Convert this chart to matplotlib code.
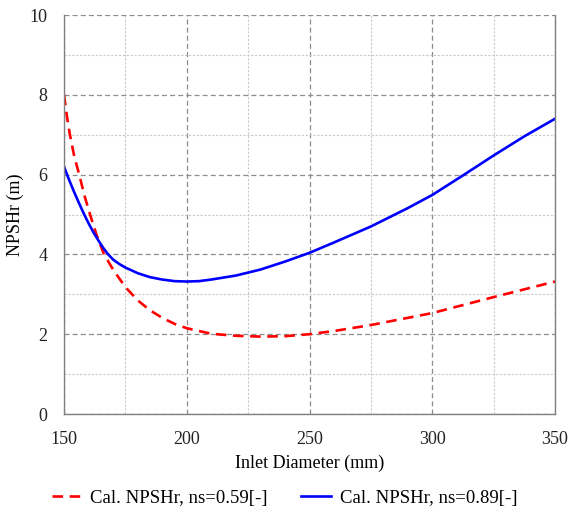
import numpy as np
from matplotlib import pyplot as plt
from matplotlib.ticker import MultipleLocator

plt.rcParams['font.family'] = ['Liberation Serif', 'DejaVu Serif']

# ns = 0.59 (red dashed)
d_059 = [150, 151.2, 152.4, 154.2, 156.2, 158.3, 160.6, 163.3, 166.3, 170.1, 175, 180, 185,
         190, 195, 200, 210, 220, 230, 240, 250, 260, 275, 300, 325, 350]
npsh_059 = [8.0, 7.45, 7.0, 6.45, 6.0, 5.48, 5.0, 4.48, 4.0, 3.61, 3.18, 2.85, 2.6,
            2.41, 2.26, 2.15, 2.01, 1.96, 1.94, 1.95, 2.0, 2.08, 2.23, 2.53, 2.93, 3.32]

# ns = 0.89 (blue solid)
d_089 = [150, 152, 154, 156, 158, 160, 162, 164, 166, 168, 170, 172.5, 175, 180, 185, 190,
         195, 200, 205, 210, 220, 230, 240, 250, 260, 275, 290, 300, 312.5, 325, 337.5, 350]
npsh_089 = [6.2, 5.88, 5.58, 5.3, 5.03, 4.78, 4.55, 4.35, 4.16, 4.0, 3.87, 3.76, 3.67,
            3.53, 3.43, 3.37, 3.33, 3.32, 3.33, 3.37, 3.47, 3.62, 3.82, 4.04, 4.3, 4.7,
            5.16, 5.49, 5.98, 6.48, 6.96, 7.4]

fig = plt.figure(figsize=(5.69, 5.12), dpi=100)
ax = fig.add_axes([0.1125, 0.1914, 0.863, 0.7793])

l1, = ax.plot(d_059, npsh_059, color='#ff0000', lw=1.9, ls=(0, (4, 2.5)),
              label='Cal. NPSHr, ns=0.59[-]')
l2, = ax.plot(d_089, npsh_089, color='#0000ff', lw=1.9, label='Cal. NPSHr, ns=0.89[-]')

ax.set_xlim(150, 350)
ax.set_ylim(0, 10)
ax.xaxis.set_major_locator(MultipleLocator(50))
ax.xaxis.set_minor_locator(MultipleLocator(25))
ax.yaxis.set_major_locator(MultipleLocator(2))
ax.yaxis.set_minor_locator(MultipleLocator(1))

ax.grid(which='major', color='#8c8c8c', ls=(0, (4, 2.5)), lw=0.9)
ax.grid(which='minor', color='#c8c8c8', ls=(0, (2, 1.5)), lw=0.8)
ax.set_axisbelow(True)

ax.tick_params(which='both', length=0, labelsize=13, colors='#222222')
ax.tick_params(axis='x', pad=12)
ax.tick_params(axis='y', pad=12)

for s in ['left', 'bottom', 'right']:
    ax.spines[s].set_color('#808080')
    ax.spines[s].set_linewidth(1.0)
ax.spines['top'].set_visible(False)

ax.set_xlabel('Inlet Diameter (mm)', fontsize=13, labelpad=5)
ax.set_ylabel('NPSHr (m)', fontsize=13, labelpad=4)

fig.legend(handles=[l1, l2], loc='center', bbox_to_anchor=(0.5, 0.027), ncol=2,
           frameon=False, fontsize=13.5, handlelength=1.6, handletextpad=0.45,
           columnspacing=1.8)

fig.savefig('out.png', dpi=100)
